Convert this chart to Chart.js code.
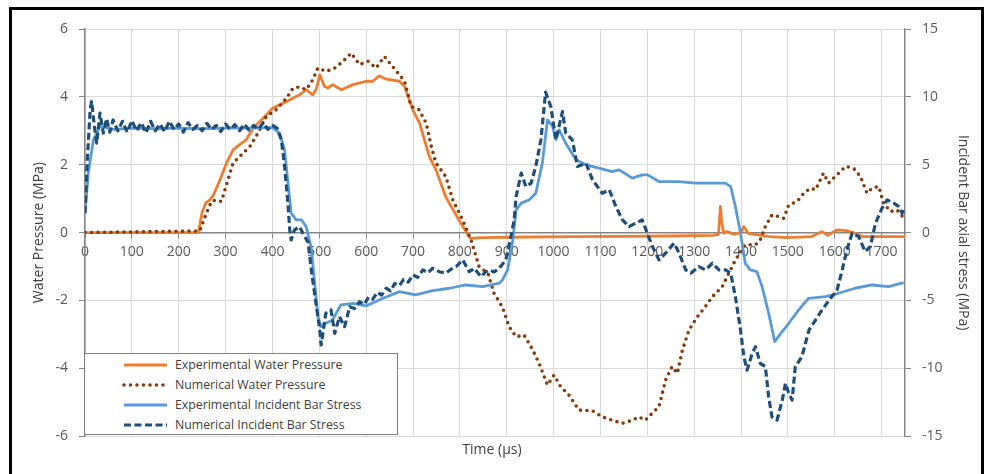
<!DOCTYPE html>
<html>
<head>
<meta charset="utf-8">
<title>Water pressure and incident bar stress</title>
<script src="https://cdn.jsdelivr.net/npm/chart.js@4/dist/chart.umd.min.js"></script>
<style>
    body { margin: 0; background: #fff; }
    .wrap { position: relative; width: 984px; height: 474px; overflow: hidden; }
    .frame {
        position: absolute; left: 9px; top: 7px; right: 0; bottom: -10px;
        border: 3px solid #000; box-sizing: border-box; pointer-events: none;
    }
    .legend {
        position: absolute; left: 84px; top: 353px; width: 314px; height: 82px;
        background: #fff; border: 1px solid #7f7f7f; box-sizing: border-box;
        font-family: "Open Sans", sans-serif; font-size: 12.3px; color: #404040;
    }
    .legend-item { position: absolute; left: 37px; height: 20px; line-height: 20px; white-space: nowrap; }
    .legend-item svg { position: absolute; left: 0; top: 6px; }
    .legend-item span { position: absolute; left: 53px; }
</style>
</head>
<body>
<div class="wrap">
    <canvas id="chart" width="984" height="474"></canvas>
    <div class="legend" id="legend"></div>
    <div class="frame"></div>
</div>
<script>
// Experimental water pressure (MPa, left axis)
const expWaterT = [0, 242, 250, 258, 266, 274, 288, 302, 316, 330, 344, 359, 380, 401, 430, 458, 472, 486, 494, 501, 511, 518, 529, 547, 572, 600, 614, 628, 643, 671, 682, 700, 714, 735, 749, 770, 799, 822, 850, 950, 1050, 1150, 1250, 1340, 1352, 1356, 1359, 1363, 1370, 1385, 1400, 1406, 1415, 1430, 1460, 1500, 1550, 1573, 1585, 1605, 1625, 1640, 1660, 1700, 1750];
const expWaterP = [0, 0, 0.6, 0.88, 0.96, 1.1, 1.55, 2.05, 2.44, 2.59, 2.73, 3.08, 3.37, 3.67, 3.86, 4.06, 4.21, 4.06, 4.25, 4.65, 4.31, 4.26, 4.36, 4.21, 4.36, 4.46, 4.46, 4.62, 4.52, 4.46, 4.31, 3.6, 3.23, 2.24, 1.85, 1.05, 0.35, -0.17, -0.15, -0.13, -0.12, -0.11, -0.1, -0.08, -0.05, 0.77, 0.3, -0.02, 0.03, -0.05, 0.0, 0.18, -0.02, -0.05, -0.12, -0.15, -0.12, 0.03, -0.08, 0.08, 0.06, 0.0, -0.12, -0.12, -0.12];

// Numerical water pressure (MPa, left axis)
const numWaterT = [0, 245, 259, 270, 280, 291, 302, 316, 330, 352, 369, 387, 408, 430, 444, 458, 472, 486, 497, 515, 533, 551, 568, 586, 604, 621, 639, 653, 671, 682, 696, 713, 728, 739, 749, 770, 785, 806, 824, 841, 860, 873, 891, 905, 920, 937, 955, 969, 987, 1001, 1015, 1033, 1054, 1083, 1104, 1125, 1147, 1168, 1182, 1196, 1210, 1225, 1239, 1253, 1264, 1275, 1289, 1307, 1324, 1339, 1360, 1374, 1388, 1409, 1431, 1441, 1452, 1466, 1481, 1491, 1502, 1520, 1534, 1548, 1559, 1576, 1587, 1601, 1623, 1640, 1655, 1669, 1680, 1694, 1704, 1719, 1733, 1745];
const numWaterP = [0, 0.05, 0.57, 0.92, 0.96, 0.92, 1.41, 2.05, 2.24, 2.54, 2.93, 3.42, 3.62, 3.96, 4.26, 4.29, 4.21, 4.5, 4.85, 4.75, 4.85, 5.05, 5.29, 4.95, 5.05, 4.85, 5.19, 4.95, 4.65, 4.46, 3.72, 3.62, 3.23, 2.54, 2.05, 1.65, 0.96, 0.37, -0.22, -1.0, -1.2, -1.79, -2.2, -2.77, -3.07, -3.02, -3.44, -3.85, -4.49, -4.2, -4.54, -4.79, -5.23, -5.25, -5.43, -5.53, -5.62, -5.53, -5.43, -5.53, -5.33, -5.13, -4.35, -3.95, -4.15, -3.46, -2.87, -2.48, -2.18, -1.89, -1.59, -1.2, -0.81, -0.36, -0.36, -0.22, 0.18, 0.52, 0.47, 0.42, 0.82, 0.92, 1.16, 1.31, 1.26, 1.75, 1.46, 1.65, 1.95, 1.9, 1.65, 1.16, 1.31, 1.36, 0.87, 0.62, 0.67, 0.47];

// Experimental incident bar stress (MPa, right axis)
const expBarT = [0, 7, 18, 32, 60, 100, 150, 200, 250, 300, 350, 400, 415, 426, 434, 440, 451, 462, 472, 483, 497, 504, 514, 528, 546, 572, 600, 636, 671, 706, 742, 778, 813, 849, 884, 891, 902, 913, 920, 931, 948, 962, 976, 987, 998, 1005, 1012, 1026, 1048, 1069, 1097, 1125, 1140, 1168, 1189, 1201, 1225, 1268, 1303, 1367, 1378, 1388, 1399, 1409, 1420, 1434, 1445, 1459, 1472, 1485, 1502, 1523, 1544, 1580, 1608, 1643, 1680, 1715, 1747];
const expBarS = [1.43, 4.38, 6.84, 7.82, 7.6, 7.7, 7.65, 7.7, 7.65, 7.7, 7.7, 7.75, 7.33, 6.1, 3.39, 1.43, 0.94, 0.94, 0.44, -1.15, -6.19, -6.93, -6.68, -6.44, -5.33, -5.21, -5.4, -4.84, -4.35, -4.59, -4.28, -4.1, -3.86, -3.98, -3.73, -3.49, -2.75, -0.54, 1.67, 2.17, 2.41, 2.9, 5.12, 8.31, 7.82, 6.84, 7.57, 6.59, 5.36, 4.99, 4.75, 4.5, 4.62, 4.01, 4.25, 4.25, 3.76, 3.76, 3.64, 3.64, 3.39, 1.92, -0.05, -2.26, -2.75, -2.88, -3.98, -5.94, -8.03, -7.42, -6.68, -5.7, -4.84, -4.72, -4.47, -4.1, -3.86, -3.98, -3.69];

// Numerical incident bar stress (MPa, right axis)
const numBarT = [0, 5, 11, 14, 21, 25, 32, 39, 46, 53, 60, 70, 80, 90, 100, 110, 120, 130, 140, 150, 160, 170, 180, 190, 200, 210, 220, 230, 240, 250, 260, 270, 280, 290, 300, 310, 320, 330, 340, 350, 360, 370, 380, 390, 400, 410, 419, 426, 433, 437, 440, 447, 458, 465, 476, 483, 493, 501, 504, 514, 525, 533, 543, 554, 565, 575, 586, 596, 605, 614, 624, 633, 643, 652, 661, 671, 680, 690, 700, 710, 721, 732, 742, 756, 770, 781, 792, 806, 820, 831, 845, 855, 863, 873, 884, 898, 909, 916, 920, 931, 941, 952, 962, 973, 983, 994, 1005, 1019, 1026, 1040, 1051, 1069, 1083, 1104, 1119, 1133, 1147, 1161, 1175, 1189, 1200, 1211, 1225, 1239, 1257, 1268, 1282, 1293, 1310, 1324, 1339, 1353, 1367, 1378, 1388, 1399, 1406, 1413, 1424, 1431, 1441, 1452, 1459, 1466, 1477, 1488, 1495, 1502, 1509, 1516, 1530, 1545, 1559, 1573, 1591, 1605, 1616, 1626, 1637, 1651, 1665, 1676, 1687, 1701, 1712, 1726, 1737, 1744, 1748];
const numBarS = [1.43, 5.36, 9.05, 9.66, 7.57, 6.59, 8.8, 7.33, 8.4, 7.4, 8.3, 7.5, 8.2, 7.4, 8.25, 7.5, 8.1, 7.35, 8.2, 7.5, 8.0, 7.45, 8.2, 7.6, 8.0, 7.4, 8.1, 7.6, 7.9, 7.5, 8.05, 7.6, 7.9, 7.45, 8.0, 7.6, 7.95, 7.5, 8.0, 7.55, 7.9, 7.6, 8.1, 7.6, 7.9, 7.7, 6.84, 4.87, 2.17, 0.2, -0.54, 0.2, 0.44, -0.05, -0.7, -2.75, -5.21, -7.18, -8.28, -5.94, -5.7, -7.42, -6.19, -6.93, -5.46, -5.6, -5.09, -5.3, -4.75, -4.9, -4.4, -4.6, -4.1, -4.3, -3.75, -3.9, -3.45, -3.65, -3.12, -3.3, -2.75, -2.95, -2.63, -2.88, -2.99, -2.7, -2.51, -2.01, -2.88, -2.63, -3.24, -2.9, -2.75, -2.9, -2.63, -2.01, -0.29, 0.94, 2.65, 4.38, 3.39, 3.64, 4.87, 6.84, 10.35, 9.29, 6.84, 8.92, 7.33, 6.84, 4.87, 5.12, 3.89, 2.9, 3.15, 1.92, 0.94, 0.44, 0.69, 0.94, -0.05, -1.03, -2.01, -1.52, -0.78, -1.52, -2.75, -2.99, -2.51, -2.75, -2.26, -2.75, -2.75, -2.99, -4.72, -7.18, -9.14, -10.13, -8.9, -8.41, -9.63, -9.88, -12.09, -13.57, -13.81, -12.34, -11.1, -11.84, -12.34, -9.88, -9.14, -7.18, -6.44, -5.7, -4.84, -4.23, -2.75, -1.28, -0.05, -0.29, -1.4, -1.03, 0.69, 1.8, 2.41, 2.17, 1.92, 1.43, 1.8];

// Axis ticks
const timeTicks = [0, 100, 200, 300, 400, 500, 600, 700, 800, 900, 1000, 1100, 1200, 1300, 1400, 1500, 1600, 1700];
const pressureTicks = [-6, -4, -2, 0, 2, 4, 6];
const stressTicks = [-15, -10, -5, 0, 5, 10, 15];

const FONT = '"Open Sans", sans-serif';
const AXIS_GREY = '#868686';
const GRID_GREY = '#d9d9d9';
const TEXT_GREY = '#595959';

const series = [
    { label: 'Experimental Water Pressure', t: expWaterT, v: expWaterP, axis: 'y', color: '#ED7D31', width: 2.8, dash: [], cap: 'butt', order: 4 },
    { label: 'Numerical Water Pressure', t: numWaterT, v: numWaterP, axis: 'y', color: '#843C0C', width: 3.6, dash: [0, 6.5], cap: 'round', order: 3 },
    { label: 'Experimental Incident Bar Stress', t: expBarT, v: expBarS, axis: 'y1', color: '#5B9BD5', width: 2.8, dash: [], cap: 'butt', order: 2 },
    { label: 'Numerical Incident Bar Stress', t: numBarT, v: numBarS, axis: 'y1', color: '#1F4E79', width: 3.2, dash: [7, 3.5], cap: 'butt', order: 1 }
];

function buildDatasets() {
    return series.map(s => ({
        label: s.label,
        data: s.t.map((t, i) => ({ x: t, y: s.v[i] })),
        yAxisID: s.axis,
        borderColor: s.color,
        backgroundColor: s.color,
        borderWidth: s.width,
        borderDash: s.dash,
        borderCapStyle: s.cap,
        borderJoinStyle: 'round',
        pointRadius: 0,
        tension: 0,
        fill: false,
        order: s.order
    }));
}

function buildLegend() {
    const legend = document.getElementById('legend');
    series.forEach((s, i) => {
        const item = document.createElement('div');
        item.className = 'legend-item';
        item.style.top = (1 + i * 20) + 'px';
        const dash = s.dash.length ? `stroke-dasharray="${s.dash.join(' ')}"` : '';
        item.innerHTML = `
            <svg width="46" height="8">
                <line x1="2" y1="4" x2="45" y2="4" stroke="${s.color}" stroke-width="${s.width}"
                      stroke-linecap="${s.cap}" ${dash}></line>
            </svg>
            <span>${s.label}</span>`;
        legend.appendChild(item);
    });
}

function fixedTicks(values) {
    return (scale) => {
        scale.ticks = values.map(v => ({ value: v }));
    };
}

const plainLabel = (value) => String(value);

const ctx = document.getElementById('chart').getContext('2d');

new Chart(ctx, {
    type: 'line',
    data: { datasets: buildDatasets() },
    options: {
        responsive: false,
        animation: false,
        devicePixelRatio: 1,
        layout: { padding: { left: 12, right: 12, top: 29, bottom: 12 } },
        plugins: {
            legend: { display: false },
            tooltip: { enabled: false },
            title: {
                display: true,
                position: 'bottom',
                text: 'Time (μs)',
                color: '#404040',
                font: { family: FONT, size: 14, weight: 'normal' },
                padding: { top: 5, bottom: 4 }
            }
        },
        scales: {
            x: {
                type: 'linear',
                min: 0,
                max: 1750,
                position: { y: 0 },
                afterBuildTicks: fixedTicks(timeTicks),
                ticks: {
                    color: TEXT_GREY,
                    font: { family: FONT, size: 14 },
                    padding: 6,
                    maxRotation: 0,
                    autoSkip: false,
                    callback: plainLabel
                },
                grid: { color: GRID_GREY, lineWidth: 1, tickLength: 5, tickColor: AXIS_GREY },
                border: { color: AXIS_GREY, width: 1.5 }
            },
            y: {
                position: 'left',
                min: -6,
                max: 6,
                afterBuildTicks: fixedTicks(pressureTicks),
                afterFit: (scale) => { scale.width = 73; },
                ticks: {
                    color: TEXT_GREY,
                    font: { family: FONT, size: 14 },
                    padding: 11,
                    callback: plainLabel
                },
                grid: { color: GRID_GREY, lineWidth: 1, tickLength: 6, tickColor: AXIS_GREY },
                border: { color: AXIS_GREY, width: 1.5 },
                title: {
                    display: true,
                    text: 'Water Pressure (MPa)',
                    color: '#404040',
                    font: { family: FONT, size: 14 },
                    padding: { top: 18.6, bottom: 0 }
                }
            },
            y1: {
                position: 'right',
                min: -15,
                max: 15,
                afterBuildTicks: fixedTicks(stressTicks),
                afterFit: (scale) => { scale.width = 67; },
                ticks: {
                    color: TEXT_GREY,
                    font: { family: FONT, size: 14 },
                    padding: 11,
                    callback: plainLabel
                },
                grid: { drawOnChartArea: false, tickLength: 6, tickColor: AXIS_GREY },
                border: { color: AXIS_GREY, width: 1.5 },
                title: {
                    display: true,
                    text: 'Incident Bar axial stress (MPa)',
                    color: '#404040',
                    font: { family: FONT, size: 14 },
                    padding: { top: 0.6, bottom: 0 }
                }
            }
        }
    }
});

buildLegend();
</script>
</body>
</html>
